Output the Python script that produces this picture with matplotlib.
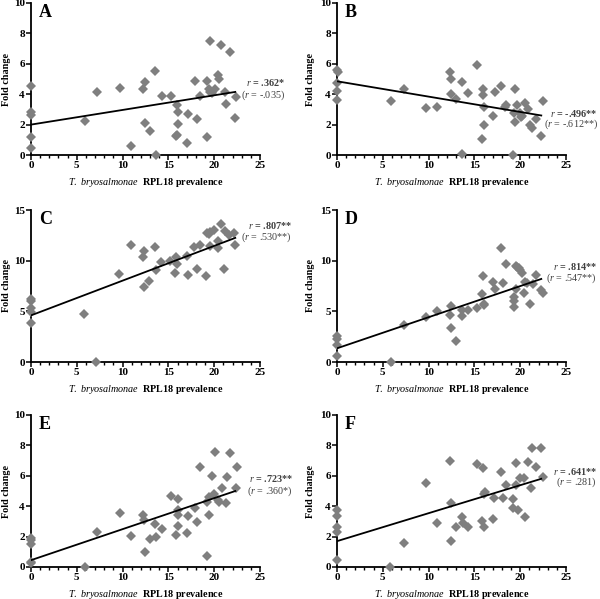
import matplotlib
matplotlib.use("Agg")
import matplotlib.pyplot as plt
from matplotlib.ticker import MultipleLocator
import numpy as np

plt.rcParams['font.family'] = ['Liberation Serif', 'DejaVu Serif']
plt.rcParams['mathtext.fontset'] = 'custom'
plt.rcParams['mathtext.it'] = 'Liberation Serif:italic'
plt.rcParams['mathtext.rm'] = 'Liberation Serif'
plt.rcParams['mathtext.bf'] = 'Liberation Serif:bold'

panel_labels = ["A", "B", "C", "D", "E", "F"]
x_label_italic = "T. bryosalmonae"
x_label_rest = " RPL18 prevalence"
y_label = "Fold change"

a_x = [0, 0, 0, 0, 0, 5.87, 7.25, 9.73, 10.93, 12.28, 12.43, 12.4, 12.97, 13.56, 13.7, 14.25,
       15.23, 15.96, 16.07, 16.0, 15.9, 15.8, 17.0, 17.16, 17.86, 18.1, 18.4, 19.17, 19.17, 19.5,
       19.42, 19.57, 19.8, 20.1, 20.4, 20.5, 20.7, 21.17, 21.25, 21.7, 22.27, 22.4]
a_y = [4.55, 2.86, 2.6, 1.16, 0.44, 2.22, 4.13, 4.40, 0.59, 4.37, 4.81, 2.13, 1.58, 5.54, 0.0, 3.91,
       3.91, 3.32, 2.86, 2.02, 1.32, 1.23, 0.81, 2.70, 4.86, 2.35, 3.91, 4.88, 1.16, 7.47,
       4.31, 4.15, 4.07, 4.37, 5.25, 5.03, 7.23, 4.15, 3.38, 6.77, 2.42, 3.82]

b_x = [0, 0.1, 0, 0, 0, 5.91, 7.26, 9.7, 10.9, 12.3, 12.45, 12.45, 13.0, 13.6, 13.7, 14.3, 15.3,
       15.84, 15.95, 15.95, 16.06, 16.06, 17.04, 17.2, 17.9, 18.3, 18.5, 19.4, 19.3, 19.45, 19.7,
       19.2, 20.0, 20.18, 20.1, 20.5, 20.8, 21.1, 21.3, 21.7, 22.3, 22.45]
b_y = [5.56, 5.43, 4.73, 4.24, 3.65, 3.54, 4.35, 3.08, 3.19, 5.49, 5.03, 4.04, 3.69, 4.77, 0.07, 4.09, 5.91,
       1.05, 4.37, 3.98, 3.14, 1.98, 2.55, 4.13, 4.53, 3.16, 3.32, 4.35, 2.75, 2.2, 3.30,
       0.0, 2.75, 2.57, 2.48, 3.41, 3.03, 2.0, 1.76, 2.37, 1.27, 3.54]

c_x = [0, 0, 0, 0, 0, 5.84, 7.15, 9.64, 10.88, 12.23, 12.37, 12.34, 12.92, 13.5, 13.6, 14.2, 15.2,
       15.77, 15.88, 15.95, 17.0, 17.15, 17.8, 18.07, 18.4, 19.1, 19.23, 19.4, 19.5, 19.5, 20.0,
       20.4, 20.44, 20.7, 21.1, 21.2, 21.6, 22.2, 22.3]
c_y = [6.26, 6.0, 5.34, 4.95, 3.86, 4.78, 0.0, 8.70, 11.5, 10.32, 10.91, 7.42, 7.98, 11.37, 9.03, 9.82, 9.99,
       8.77, 10.35, 9.66, 10.42, 8.54, 11.37, 9.2, 11.54, 8.51, 12.69, 12.63, 12.79, 11.47, 12.99,
       11.97, 11.28, 13.65, 9.2, 12.92, 12.56, 12.76, 11.5]

d_x = [0, 0, 0, 0, 5.9, 7.26, 9.7, 10.9, 12.3, 12.45, 12.45, 13.0, 13.6, 13.7, 14.3, 15.3, 15.84,
       15.95, 16.06, 16.0, 17.04, 17.2, 17.9, 18.1, 18.4, 19.3, 19.3, 19.27, 19.5, 19.67, 19.85,
       20.0, 20.18, 19.56, 20.44, 20.5, 20.77, 21.1, 21.35, 21.7, 22.3, 22.45]
d_y = [2.57, 2.24, 1.71, 0.59, 0.0, 3.69, 4.42, 5.08, 4.68, 5.57, 3.40, 2.08, 4.55, 5.11, 5.11, 5.37, 6.73,
       8.47, 5.6, 5.7, 7.88, 7.19, 11.24, 7.75, 9.69, 6.4, 6.0, 5.44, 9.46, 9.36, 9.23,
       9.03, 8.74, 7.19, 6.76, 7.85, 7.75, 5.7, 7.65, 8.6, 7.09, 6.82]

e_x = [0, 0, 0, 0, 0, 5.85, 7.24, 9.72, 10.93, 12.28, 12.39, 12.43, 12.97, 13.56, 13.67, 14.29,
       15.24, 15.83, 16.05, 16.08, 16.0, 16.1, 17.07, 17.18, 17.9, 18.13, 18.46, 19.23, 19.26,
       19.44, 19.44, 19.74, 20.0, 20.1, 20.43, 20.5, 20.83, 21.24, 21.35, 21.7, 22.33, 22.44]
e_y = [1.90, 1.75, 1.53, 0.33, 0.28, 0.0, 2.28, 3.54, 2.06, 3.39, 3.06, 0.96, 1.84, 2.84, 1.97, 2.52,
       4.70, 2.12, 4.46, 3.72, 3.39, 2.71, 2.23, 3.35, 3.90, 2.93, 6.61, 0.70, 4.29,
       4.60, 3.39, 6.0, 4.79, 7.59, 4.42, 4.27, 5.21, 4.22, 5.93, 7.48, 5.23, 6.61]

f_x = [0, 0, 0, 0, 0, 5.84, 7.3, 9.74, 10.92, 12.34, 12.48, 12.48, 13.03, 13.61, 13.72, 14.3,
       15.28, 15.97, 15.83, 16.1, 16.16, 16.05, 17.07, 17.18, 17.9, 18.12, 18.45, 19.22, 19.22,
       19.55, 19.55, 19.73, 20.0, 20.4, 20.5, 20.8, 21.18, 21.33, 21.73, 22.3, 22.45]
f_y = [3.72, 3.37, 2.60, 2.28, 0.46, 0.0, 1.58, 5.54, 2.87, 6.99, 4.23, 1.71, 2.61, 3.31, 2.89, 2.63,
       6.77, 6.51, 3.05, 4.82, 4.91, 2.63, 3.16, 4.54, 6.25, 4.52, 5.37, 4.45, 3.86,
       6.84, 5.37, 3.77, 5.88, 5.88, 3.27, 6.93, 5.22, 7.81, 6.58, 7.81, 5.9]

fit_intercepts = [2.0, 4.85, 4.6, 1.35, 0.45, 1.7]
fit_slopes = [0.0964, -0.1009, 0.343, 0.307, 0.204, 0.184]
fit_xmax = [22.3, 22.3, 22.3, 22.3, 22.3, 22.3]

r_main_vals = [".362*", "-.496**", ".807**", ".814**", ".723**", ".641**"]
r_sub_vals = ["-.035", "-.612**", ".530**", ".547**", ".360*", ".281"]
y_max = [10, 10, 15, 15, 10, 10]
y_step = [2, 2, 5, 5, 2, 2]

xs = [a_x, b_x, c_x, d_x, e_x, f_x]
ys = [a_y, b_y, c_y, d_y, e_y, f_y]

# text positions (data coords) for correlation annotations
txt_pos = [(27.7, 4.8, 3.95), (28.5, 2.76, 2.04), (28.5, 13.5, 12.3),
           (28.4, 9.4, 8.3), (28.6, 5.8, 5.0), (28.4, 6.3, 5.55)]

fig = plt.figure(figsize=(6.0, 5.99), dpi=100)
W, H = 600.0, 599.0
lefts = [31, 337]
ylabel_x = [-0.088, -0.094]
tops_bottoms = [(3, 155), (210, 362), (415, 567)]
grey = "#7f7f7f"
text_grey = "#404040"
lab_fs = 7.3

for i in range(6):
    row, col = divmod(i, 2)
    l = lefts[col]
    t, b = tops_bottoms[row]
    ax = fig.add_axes([l / W, 1 - b / H, 229 / W, (b - t) / H])
    ax.plot(xs[i], ys[i], linestyle='none', marker='D', markersize=5.0,
            color=grey, markeredgewidth=0, clip_on=False, zorder=3)
    xx = np.array([0, fit_xmax[i]])
    ax.plot(xx, fit_intercepts[i] + fit_slopes[i] * xx, color='black', lw=1.3, zorder=4)
    ax.set_xlim(0, 25)
    ax.set_ylim(0, y_max[i])
    ax.xaxis.set_major_locator(MultipleLocator(5))
    ax.xaxis.set_minor_locator(MultipleLocator(1))
    ax.yaxis.set_major_locator(MultipleLocator(y_step[i]))
    for s in ['top', 'right']:
        ax.spines[s].set_visible(False)
    for s in ['left', 'bottom']:
        ax.spines[s].set_linewidth(1.3)
    ax.tick_params(axis='both', which='major', length=3.5, width=1.1, labelsize=8, pad=1.0)
    ax.tick_params(axis='both', which='minor', length=2.2, width=1.0)
    for lab in ax.get_xticklabels() + ax.get_yticklabels():
        lab.set_fontweight('bold')
    ax.set_ylabel(y_label, fontsize=lab_fs, fontweight='bold')
    ax.yaxis.set_label_coords(ylabel_x[col], 0.5)
    ax.set_xlabel(r"$\it{" + x_label_italic.replace(" ", r"\ ") + "}$" + r"$\mathbf{\ \ }$" + x_label_rest.strip(),
                  fontsize=lab_fs, fontweight='bold')
    ax.xaxis.set_label_coords(0.5, -0.135)
    ax.text(0.035, 0.995, panel_labels[i], transform=ax.transAxes, ha='left', va='top',
            fontsize=13, fontweight='bold')
    tx, ty1, ty2 = txt_pos[i]
    ax.text(tx, ty1, r"$\it{r}$ = " + r_main_vals[i], ha='right', va='center', fontsize=7.3,
            fontweight='bold', color=text_grey, clip_on=False)
    ax.text(tx, ty2, r"($\it{r}$ = " + r_sub_vals[i] + ")", ha='right', va='center', fontsize=7.3,
            color=text_grey, clip_on=False)

fig.savefig("out.png", dpi=100)
